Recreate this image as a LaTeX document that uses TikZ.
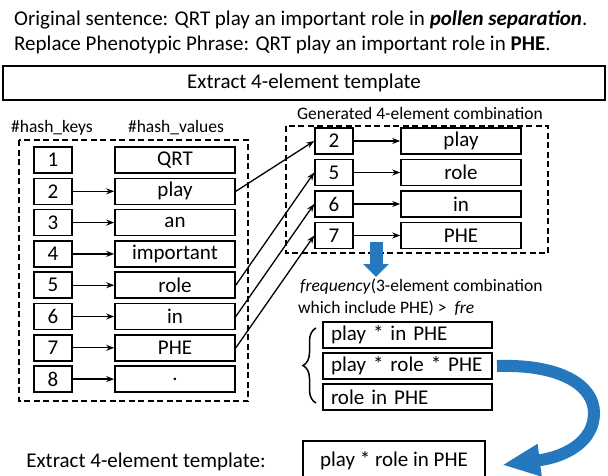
\documentclass[tikz,border=0pt]{standalone}
\usepackage{fontspec}
\setmainfont{Carlito}
\usetikzlibrary{arrows.meta,decorations.pathreplacing}
\definecolor{bluec}{RGB}{38,120,190}
\newcommand\mainf{\fontsize{21}{25}\selectfont}
\newcommand\secf{\fontsize{17.5}{21}\selectfont}
\begin{document}
\begin{tikzpicture}[x=1pt,y=-1pt,
  box/.style={draw,line width=1.6pt,inner sep=0pt,minimum height=26pt,font=\mainf},
  keybox/.style={box,minimum width=38pt},
  valbox/.style={box,minimum width=120pt},
  combbox/.style={box,minimum width=169pt,text width=153pt,align=left},
  dashbox/.style={draw,dashed,line width=1.5pt,dash pattern=on 6pt off 3.5pt},
  arr/.style={line width=1.3pt,-{Stealth[length=8pt,width=6pt]}},
  lbl/.style={inner sep=0pt,font=\secf},
  txt/.style={inner sep=0pt,font=\mainf}]
\useasboundingbox (0,0) rectangle (608,475);
% top text
\node[txt,anchor=west] (orig) at (14,20) {Original sentence: QRT play an important role in \textbf{\textit{pollen separation}}.};
\node[txt,anchor=west] (repl) at (14,45) {Replace Phenotypic Phrase: QRT play an important role in \textbf{PHE}.};
\node[draw,line width=1.8pt,minimum width=602pt,minimum height=34pt,inner sep=0pt,font=\mainf] (extract) at (304,83) {Extract 4-element template};
% left table
\node[lbl] (hk) at (52,128) {\#hash\_keys};
\node[lbl] (hv) at (176,128) {\#hash\_values};
\draw[dashbox] (19,140) rectangle (248,401);
\foreach \i/\w [count=\n] in {1/QRT,2/play,3/an,4/important,5/role,6/in,7/PHE,8/.}{
  \pgfmathsetmacro\yy{160+31.3*(\n-1)}
  \node[keybox] (k\i) at (53,\yy) {\i};
  \node[valbox] (v\i) at (175,\yy) {\w};
}
\foreach \i in {2,...,8}{\draw[arr] (k\i) -- (v\i);}
% right table
\node[lbl] (gen) at (420,113) {Generated 4-element combination};
\draw[dashbox] (286,126) rectangle (548,253);
\foreach \i/\w/\yy [count=\n] in {2/play/141,5/role/172.5,6/in/204,7/PHE/235.5}{
  \node[keybox] (rk\n) at (334,\yy) {\i};
  \node[valbox] (rv\n) at (461,\yy) {\w};
  \draw[arr] (rk\n) -- (rv\n);
}
\draw[arr] (v2.east) -- (rk1.west);
\draw[arr] (v5.east) -- (rk2.west);
\draw[arr] (v6.east) -- (rk3.west);
\draw[arr] (v7.east) -- (rk4.west);
% blue down arrow
\coordinate (dA) at (376,242);
\coordinate (dB) at (376,277);
\draw[bluec,line width=13pt,-{Triangle[length=13pt,width=25pt]}] (dA) -- (dB);
% frequency text
\node[lbl,anchor=west] (freq1) at (300,287) {\textit{frequency}(3-element combination};
\node[lbl,anchor=west] (freq2) at (298,308) {which include PHE) > \ \textit{fre}};
% combinations
\node[combbox] (c1) at (407.5,335) {play * in PHE};
\node[combbox] (c2) at (407.5,366) {play * role * PHE};
\node[combbox] (c3) at (407.5,397) {role in PHE};
\draw[line width=1.5pt,decorate,decoration={brace,amplitude=13pt}] (316,403) -- (316,328);
% bottom
\node[txt] (ext2) at (146,462) {Extract 4-element template:};
\node[draw,line width=1.6pt,minimum width=182pt,minimum height=40pt,inner sep=0pt,font=\mainf,anchor=north] (final) at (394,440) {\raisebox{3pt}{play * role in PHE}};
% curved blue arrow
\coordinate (cA) at (497,366);
\coordinate (cB) at (594,413);
\coordinate (cC) at (502,465);
\draw[bluec,line width=12pt,-{Triangle[length=38pt,width=30pt]}] (cA) .. controls (560,364) and (594,385) .. (cB) .. controls (594,442) and (565,457) .. (cC);
\end{tikzpicture}
\end{document}
